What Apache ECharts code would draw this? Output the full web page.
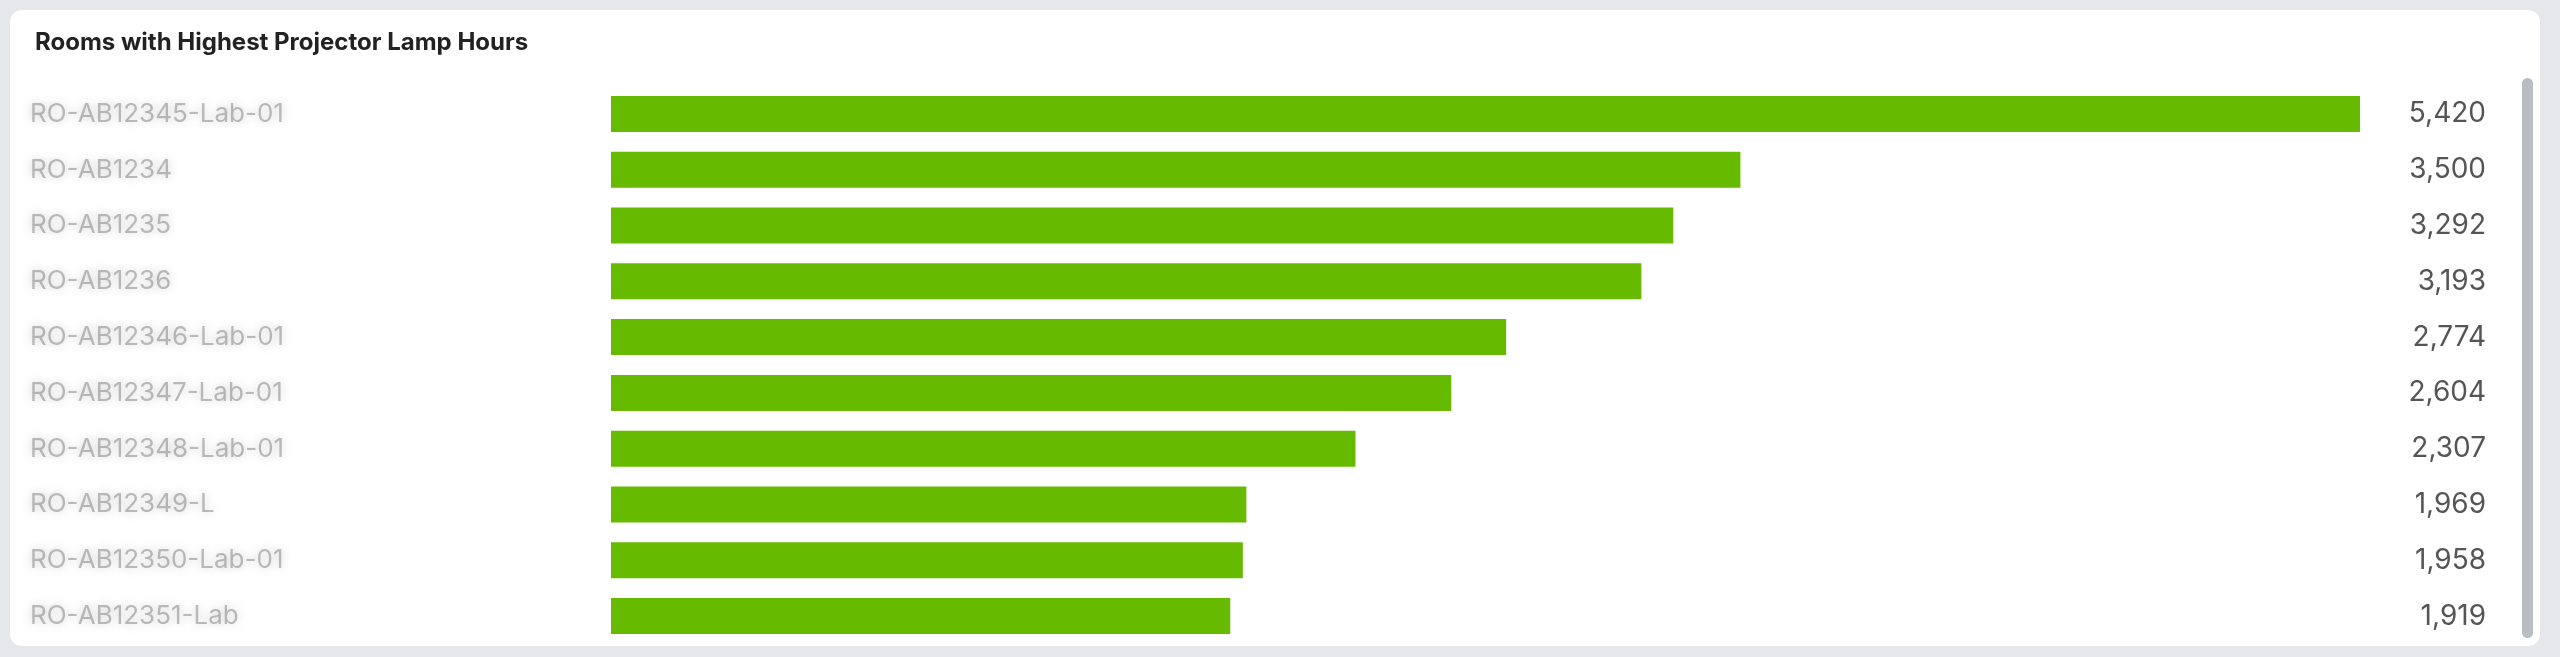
<!DOCTYPE html>
<html><head><meta charset="utf-8">
<script src="https://cdn.jsdelivr.net/npm/echarts@6/dist/echarts.min.js"></script>
<style>
html,body{margin:0;padding:0;background:#e6e7eb;width:2560px;height:657px;overflow:hidden}
#card{position:absolute;left:10px;top:10px;width:2530px;height:636px;background:#fff;border-radius:12px;overflow:hidden}
#chart{position:absolute;left:0;top:0;width:2530px;height:636px}
#sb{position:absolute;left:2522px;top:78px;width:11px;height:560px;background:#b9bcc1;border-radius:6px}
</style></head><body>
<div id="card"><div id="chart"></div></div><div id="sb"></div>
<script>
const categories = ["RO-AB12345-Lab-01","RO-AB1234","RO-AB1235","RO-AB1236","RO-AB12346-Lab-01","RO-AB12347-Lab-01","RO-AB12348-Lab-01","RO-AB12349-L","RO-AB12350-Lab-01","RO-AB12351-Lab"];
const values = [5420,3500,3292,3193,2774,2604,2307,1969,1958,1919];
const valueLabels = values.map(v => v.toLocaleString('en-US'));
const chart = echarts.init(document.getElementById('chart'));
chart.setOption({
  animation:false,
  title:{text:'Rooms with Highest Projector Lamp Hours',left:20,top:16,textStyle:{fontFamily:'Inter',fontSize:24,fontWeight:'bold',color:'#222'}},
  grid:{left:601,width:1749,top:76,height:558},
  xAxis:{type:'value',min:0,max:5420,show:false},
  yAxis:[
    {type:'category',data:categories,inverse:true,axisLine:{show:false},axisTick:{show:false},
     axisLabel:{align:'left',margin:581,fontFamily:'Inter',fontSize:26,color:'rgba(110,110,110,0.45)',textShadowColor:'rgba(110,110,110,0.8)',textShadowBlur:10}},
    {type:'category',data:valueLabels,inverse:true,position:'right',axisLine:{show:false},axisTick:{show:false},
     axisLabel:{align:'right',margin:126,fontFamily:'Inter',fontSize:28,color:'#555'}}
  ],
  series:[{type:'bar',data:values,barWidth:36,itemStyle:{color:'#66bb00'}}]
});
</script></body></html>
